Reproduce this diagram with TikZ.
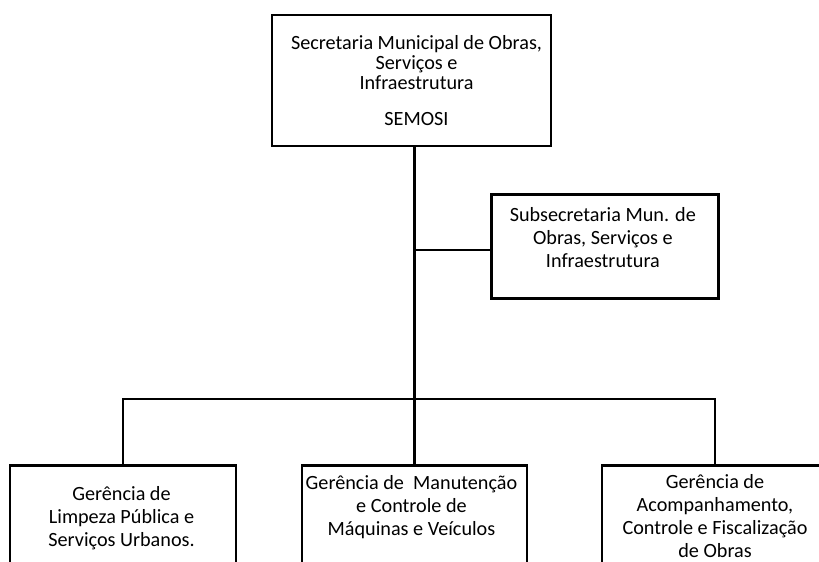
\documentclass[tikz,border=0pt]{standalone}
\usepackage{fontspec}
\setmainfont{Carlito}
\usetikzlibrary{positioning}

\begin{document}
\begin{tikzpicture}[x=1pt, y=-1pt, line width=2.2pt]
\tikzstyle{unit}=[draw, rectangle, line width=2.7pt, inner sep=0pt]
\tikzstyle{caption}=[align=center, inner sep=0pt, font=\fontsize{20.2}{23}\selectfont]

\clip (0,0) rectangle (819,562);

% top level
\node[unit, minimum width=279, minimum height=131,
  label={[caption, font=\fontsize{20.2}{20}\selectfont, xshift=5pt]center:Secretaria Municipal de Obras,\\ Serviços e\\ Infraestrutura\\[16pt] SEMOSI}] (semosi) at (411.5,80.5) {};

\node[unit, minimum width=227, minimum height=104, anchor=north west,
  label={[caption, anchor=north, xshift=-2pt, yshift=-13pt]north:Subsecretaria Mun. de\\ Obras, Serviços e\\ Infraestrutura}] (sub) at (490,193) {};

% gerencias
\node[unit, minimum width=226, minimum height=140, anchor=north,
  label={[caption, anchor=north, xshift=-1.5pt, yshift=-21pt]north:Gerência de\\ Limpeza Pública e\\ Serviços Urbanos.}] (limpeza) at (123,464) {};
\node[unit, minimum width=225, minimum height=140, anchor=north,
  label={[caption, anchor=north, xshift=-3pt, yshift=-10pt]north:Gerência de\ \ Manutenção\\ e Controle de\\ Máquinas e Veículos}] (maquinas) at (414.5,464) {};
\node[unit, minimum width=226, minimum height=140, anchor=north,
  label={[caption, anchor=north, yshift=-9pt]north:Gerência de\\ Acompanhamento,\\ Controle e Fiscalização\\ de Obras}] (obras) at (715,464) {};

\coordinate (bus) at (414,399);

\draw (maquinas.north) -- (maquinas.north |- semosi.south);
\draw ([yshift=-4pt]sub.west) -- ([yshift=-4pt]sub.west -| maquinas.north);
\draw (limpeza.north) -- (limpeza.north |- bus) -- (obras.north |- bus) -- (obras.north);

\end{tikzpicture}
\end{document}
